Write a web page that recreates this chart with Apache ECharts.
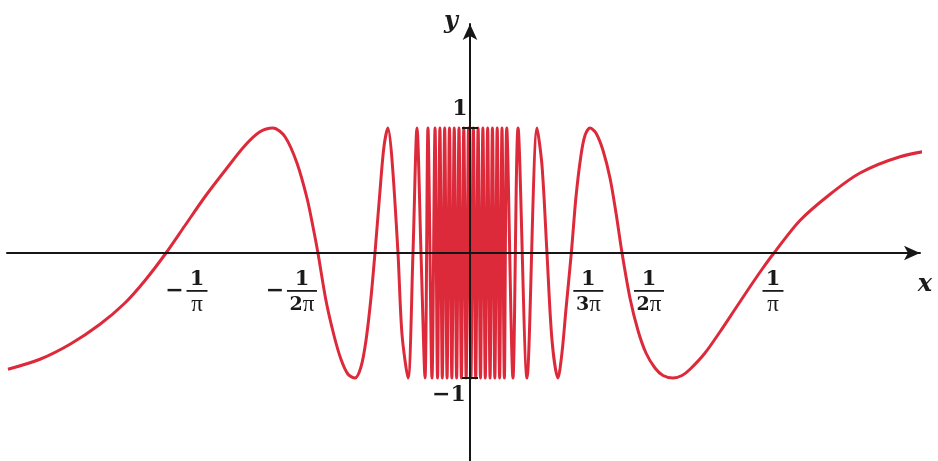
<!DOCTYPE html>
<html>
<head>
<meta charset="utf-8">
<script src="https://cdn.jsdelivr.net/npm/echarts@6/dist/echarts.min.js"></script>
<style>
  html, body { margin: 0; padding: 0; background: #ffffff; }
  #chart { width: 938px; height: 461px; }
</style>
</head>
<body>
<div id="chart"></div>
<script>
// y = sin(1/x): readings of the curve at its zeros, peaks, troughs and in-between points
const curveX = [
  -0.4838, -0.4503, -0.4188, -0.3874, -0.3613, -0.3403, -0.3183, -0.2984, -0.2775, -0.2565,
  -0.2356, -0.2199, -0.2063, -0.1937, -0.1812, -0.1707, -0.1644, -0.1592, -0.1508, -0.1424,
  -0.1351, -0.1277, -0.1204, -0.1141, -0.1089, -0.1037, -0.0995, -0.0942, -0.0901, -0.0859,
  -0.0817, -0.0754, -0.0712, -0.0649, -0.0597, -0.0555, -0.0513, -0.0471, -0.0440, -0.0398,
  -0.0366,
  // the densely packed oscillations around the origin
  -0.0340, -0.0315, -0.0290, -0.0265, -0.0240, -0.0215, -0.0190, -0.0165, -0.0140, -0.0115,
  -0.0090, -0.0065, -0.0040, -0.0015, 0.0010, 0.0035, 0.0060, 0.0085, 0.0110, 0.0135,
  0.0160, 0.0185, 0.0210, 0.0235, 0.0260, 0.0285, 0.0310, 0.0335, 0.0360, 0.0385,
  0.0450, 0.0503, 0.0597, 0.0702, 0.0754, 0.0806, 0.0859, 0.0921, 0.0963, 0.1005,
  0.1061, 0.1110, 0.1162, 0.1204, 0.1257, 0.1319, 0.1393, 0.1466, 0.1529, 0.1592,
  0.1675, 0.1759, 0.1843, 0.1937, 0.2021, 0.2126, 0.2220, 0.2304, 0.2461, 0.2618,
  0.2775, 0.2932, 0.3058, 0.3183, 0.3455, 0.3770, 0.4084, 0.4503, 0.4901
];
const curveY = [
  -0.93, -0.85, -0.73, -0.57, -0.40, -0.22, 0, 0.22, 0.45, 0.66,
  0.86, 0.97, 1, 0.93, 0.72, 0.44, 0.21, 0, -0.38, -0.66,
  -0.85, -0.97, -1, -0.91, -0.70, -0.36, 0, 0.50, 0.85, 1,
  0.75, 0, -0.65, -1, 0, 1, 0, -1, 1, -1,
  1,
  -1, 1, -1, 1, -1, 1, -1, 1, -1, 1,
  -1, 1, -1, 1, -1, 1, -1, 1, -1, 1,
  -1, 1, -1, 1, -1, 1, -1, 1, -1, 1,
  -1, 1, -1, 1, 0.70, 0, -0.70, -1, -0.80, -0.45,
  0, 0.45, 0.78, 0.94, 1, 0.96, 0.82, 0.60, 0.32, 0,
  -0.36, -0.62, -0.80, -0.92, -0.98, -1, -0.98, -0.93, -0.80, -0.63,
  -0.45, -0.27, -0.13, 0, 0.26, 0.47, 0.64, 0.77, 0.83
];

// labelled points on the x axis: ±1/(kπ)
const tickX    = [-0.3183, -0.1592, 0.1061, 0.1592, 0.3183];
const tickSign = ['\u2212', '\u2212', '', '', ''];
const tickNum  = ['1', '1', '1', '1', '1'];
const tickK    = ['', '2', '3', '2', ''];

// marked values on the y axis
const yTickValues = [1, -1];
const yTickLabels = ['1', '\u22121'];

const AXIS_COLOR = '#161616';
const TEXT_COLOR = '#1a1a1a';
const CURVE_COLOR = '#dd2a3b';
const SERIF = '"DejaVu Serif", "Liberation Serif", serif';
const PI_FONT = '"Liberation Serif", "DejaVu Serif", serif';

const chart = echarts.init(document.getElementById('chart'), null, { renderer: 'canvas' });

// 125 px per unit vertically, 955 px per unit horizontally, origin at (470, 253)
const yAxisBase = {
  type: 'value',
  min: -1.664,
  max: 1.832,
  z: 5,
  axisLabel: { show: false },
  splitLine: { show: false }
};

chart.setOption({
  animation: false,
  backgroundColor: '#ffffff',
  grid: { left: 7, right: 18, top: 24, bottom: 0, containLabel: false },
  xAxis: {
    type: 'value',
    min: -0.4848,
    max: 0.4712,
    z: 5,
    axisLine: {
      onZero: true,
      symbol: ['none', 'arrow'],
      symbolSize: [11, 16],
      lineStyle: { color: AXIS_COLOR, width: 2 }
    },
    axisTick: { show: false },
    axisLabel: { show: false },
    splitLine: { show: false }
  },
  yAxis: [
    Object.assign({}, yAxisBase, {
      axisLine: {
        onZero: true,
        onZeroAxisIndex: 0,
        symbol: ['none', 'arrow'],
        symbolSize: [11, 16],
        lineStyle: { color: AXIS_COLOR, width: 2 }
      },
      axisTick: { show: true, customValues: yTickValues, length: 8, lineStyle: { color: AXIS_COLOR, width: 2 } }
    }),
    Object.assign({}, yAxisBase, {
      position: 'left',
      axisLine: { show: false, onZero: true, onZeroAxisIndex: 0 },
      axisTick: { show: true, inside: true, customValues: yTickValues, length: 8, lineStyle: { color: AXIS_COLOR, width: 2 } }
    })
  ],
  series: [{
    type: 'line',
    data: curveX.map((x, i) => [x, curveY[i]]),
    showSymbol: false,
    smooth: 0.3,
    clip: false,
    z: 2,
    lineStyle: { color: CURVE_COLOR, width: 3 }
  }]
});

// text annotations placed from the axes' own scales
function toPx(x, y) { return chart.convertToPixel({ gridIndex: 0 }, [x, y]); }

const graphics = [];
const origin = toPx(0, 0);

// fractions under the x axis, nudged sideways off the curve
const fracShift = [31, -16, 17, 27, -1];
tickX.forEach((v, i) => {
  const cx = toPx(v, 0)[0] + fracShift[i];
  const barY = origin[1] + 38;
  const w = tickK[i] ? 30 : 21;
  graphics.push({
    type: 'text', x: cx, y: barY - 11, z: 10,
    style: { text: tickNum[i], fill: TEXT_COLOR, font: 'bold 21px ' + SERIF, align: 'center', verticalAlign: 'middle' }
  });
  graphics.push({
    type: 'rect', z: 10,
    shape: { x: cx - w / 2, y: barY - 1, width: w, height: 1.8 },
    style: { fill: TEXT_COLOR }
  });
  graphics.push({
    type: 'text', x: cx, y: barY + 14, z: 10,
    style: {
      text: (tickK[i] ? '{k|' + tickK[i] + '}' : '') + '{p|\u03c0}',
      fill: TEXT_COLOR, align: 'center', verticalAlign: 'middle',
      rich: {
        k: { fontFamily: SERIF, fontWeight: 'bold', fontSize: 19, fill: TEXT_COLOR },
        p: { fontFamily: PI_FONT, fontWeight: 'normal', fontSize: 23, fill: TEXT_COLOR }
      }
    }
  });
  if (tickSign[i]) {
    graphics.push({
      type: 'text', x: cx - w / 2 - 12, y: barY, z: 10,
      style: { text: tickSign[i], fill: TEXT_COLOR, font: 'bold 22px ' + SERIF, align: 'center', verticalAlign: 'middle' }
    });
  }
});

// values beside the y axis ticks
const yLabelOffset = [[-10, -19], [-21, 17]];
yTickValues.forEach((v, i) => {
  const p = toPx(0, v);
  graphics.push({
    type: 'text', x: p[0] + yLabelOffset[i][0], y: p[1] + yLabelOffset[i][1], z: 10,
    style: { text: yTickLabels[i], fill: TEXT_COLOR, font: 'bold 22px ' + SERIF, align: 'center', verticalAlign: 'middle' }
  });
});

// axis names
graphics.push({
  type: 'text', x: 925, y: 285, z: 10,
  style: { text: 'x', fill: TEXT_COLOR, font: 'italic bold 24px ' + SERIF, align: 'center', verticalAlign: 'middle' }
});
graphics.push({
  type: 'text', x: origin[0] - 19, y: 22, z: 10,
  style: { text: 'y', fill: TEXT_COLOR, font: 'italic bold 24px ' + SERIF, align: 'center', verticalAlign: 'middle' }
});

chart.setOption({ graphic: graphics });
</script>
</body>
</html>
